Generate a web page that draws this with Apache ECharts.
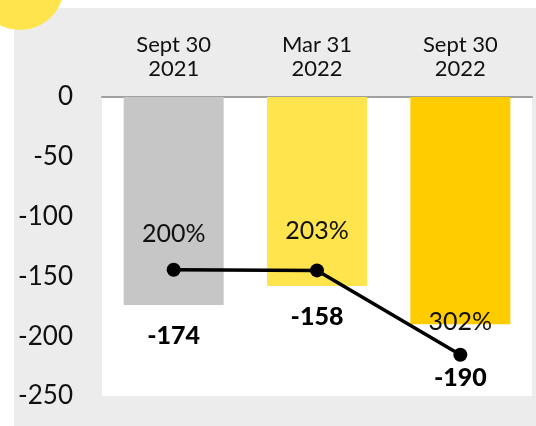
<!DOCTYPE html>
<html>
<head>
<meta charset="utf-8">
<script src="https://cdn.jsdelivr.net/npm/echarts@6/dist/echarts.min.js"></script>
<style>
  html, body { margin: 0; padding: 0; background: #fff; }
  #main { width: 536px; height: 426px; }
</style>
</head>
<body>
<div id="main"></div>
<script>
var categories = ['Sept 30\n2021', 'Mar 31\n2022', 'Sept 30\n2022'];
var barValues = [-174, -158, -190];
var barColors = ['#C6C6C6', '#FFE44D', '#FFCC00'];
var ratioPoints = [-144.5, -145, -215.5];
var ratioLabels = ['200%', '203%', '302%'];

var FONT = 'Lato';

var chart = echarts.init(document.getElementById('main'));

// distances of the % labels above each dot
var ratioDist = [16, 20, 13];

var option = {
  animation: false,
  textStyle: { fontFamily: FONT },
  graphic: [
    {
      type: 'rect', z: -10,
      shape: { x: 14, y: 8, width: 522, height: 418 },
      style: { fill: '#ECECEC' }
    },
    {
      type: 'circle', z: 100,
      shape: { cx: 20, cy: -14, r: 44 },
      style: { fill: '#FFE44D' }
    }
  ],
  grid: {
    left: 102, right: 4, top: 97, bottom: 30,
    show: true, backgroundColor: '#fff', borderWidth: 0
  },
  xAxis: {
    type: 'category',
    position: 'top',
    data: categories,
    axisTick: { show: false },
    axisLine: { lineStyle: { color: '#A0A0A0', width: 2 } },
    axisLabel: {
      color: '#111', fontSize: 22, lineHeight: 24, margin: 16,
      fontFamily: FONT
    }
  },
  yAxis: {
    type: 'value',
    min: -250, max: 0, interval: 50,
    splitLine: { show: false },
    axisLine: { show: false },
    axisTick: { show: false },
    axisLabel: {
      color: '#111', fontSize: 26, margin: 29, fontFamily: FONT
    }
  },
  series: [
    {
      type: 'bar',
      barWidth: 100,
      data: barValues.map(function (v, i) {
        var d = { value: v, itemStyle: { color: barColors[i] } };
        if (i === 2) d.label = { distance: 41 };
        return d;
      }),
      label: {
        show: true,
        position: 'bottom',
        distance: 18,
        fontSize: 25,
        fontWeight: 900,
        color: '#000',
        fontFamily: FONT
      }
    },
    {
      type: 'line',
      data: ratioPoints.map(function (v, i) {
        return { value: v, label: { distance: ratioDist[i] } };
      }),
      symbol: 'circle',
      symbolSize: 14,
      lineStyle: { color: '#000', width: 3.5 },
      itemStyle: { color: '#000' },
      z: 5,
      label: {
        show: true,
        position: 'top',
        fontSize: 25,
        color: '#111',
        fontFamily: FONT,
        formatter: function (p) { return ratioLabels[p.dataIndex]; }
      }
    }
  ]
};

chart.setOption(option);
</script>
</body>
</html>
